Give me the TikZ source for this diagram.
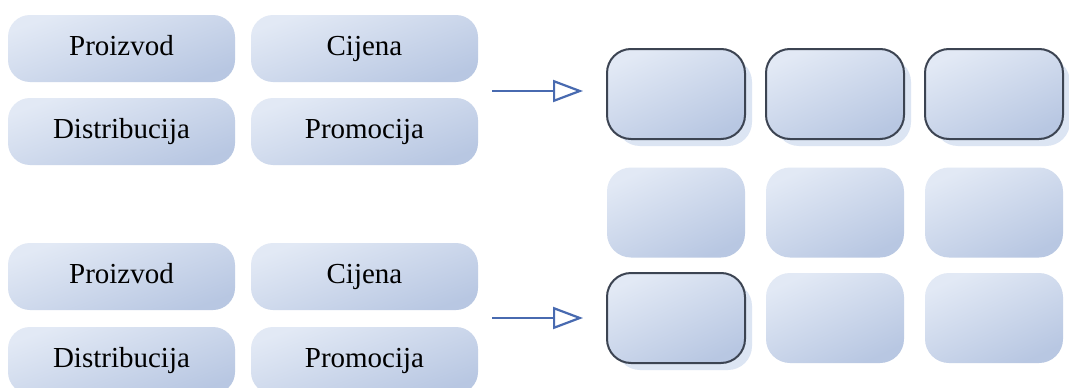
\documentclass[tikz,border=0pt]{standalone}
\usepackage{fontspec}
\setmainfont{Liberation Serif}
\usetikzlibrary{arrows.meta}
\definecolor{boxlight}{RGB}{226,233,245}
\definecolor{boxdark}{RGB}{184,199,226}
\definecolor{shadowc}{RGB}{220,229,243}
\definecolor{edgec}{RGB}{60,68,82}
\definecolor{arrowc}{RGB}{72,106,176}
\tikzset{
  pill/.style={rectangle, rounded corners=22pt, minimum width=227pt, minimum height=67pt,
    inner sep=0pt, top color=boxlight, bottom color=boxdark, shading angle=20,
    font=\fontsize{29}{30}\selectfont, text=black, text height=20pt, text depth=6pt},
  cell/.style={rectangle, rounded corners=24pt, minimum width=138pt, minimum height=90pt,
    inner sep=0pt, top color=boxlight, bottom color=boxdark, shading angle=25},
  hicell/.style={cell, draw=edgec, line width=2pt},
  shade/.style={rectangle, rounded corners=24pt, fill=shadowc, minimum width=136pt, minimum height=88pt, inner sep=0pt},
  flow/.style={draw=arrowc, line width=2.4pt, -{Triangle[open, length=30pt, width=22pt, line width=2.2pt]}, shorten >=23pt}
}
\begin{document}
\begin{tikzpicture}[x=1pt,y=-1pt]
\clip (0,0) rectangle (1069,388);
\fill[white] (0,0) rectangle (1069,388);
% left top group
\node[pill] (p1) at (121.5,48.5) {Proizvod};
\node[pill] (c1) at (364.5,48.5) {Cijena};
\node[pill] (d1) at (121.5,131.5) {Distribucija};
\node[pill] (m1) at (364.5,131.5) {Promocija};
% left bottom group
\node[pill] (p2) at (121.5,276.5) {Proizvod};
\node[pill] (c2) at (364.5,276.5) {Cijena};
\node[pill] (d2) at (121.5,360.5) {Distribucija};
\node[pill] (m2) at (364.5,360.5) {Promocija};
% shadows of highlighted cells
\node[shade] (s11) at (684,102) {};
\node[shade] (s12) at (843,102) {};
\node[shade] (s13) at (1002,102) {};
\node[shade] (s31) at (684,326) {};
% grid
\node[hicell] (g11) at (676,94) {};
\node[hicell] (g12) at (835,94) {};
\node[hicell] (g13) at (994,94) {};
\node[cell] (g21) at (676,212.5) {};
\node[cell] (g22) at (835,212.5) {};
\node[cell] (g23) at (994,212.5) {};
\node[hicell] (g31) at (676,318) {};
\node[cell] (g32) at (835,318) {};
\node[cell] (g33) at (994,318) {};
% arrows
\coordinate (a1) at (492,91);
\coordinate (a2) at (492,318);
\draw[flow] (a1) -- (a1 -| g11.west);
\draw[flow] (a2) -- (a2 -| g31.west);
\end{tikzpicture}
\end{document}
